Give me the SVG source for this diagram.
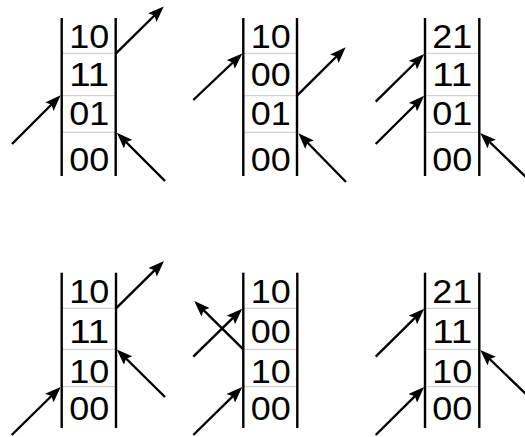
<svg xmlns="http://www.w3.org/2000/svg" width="525" height="437" viewBox="0 0 525 437">
  <style>
    .rail { stroke: #000; stroke-width: 2.4; fill: none; }
    .sep { stroke: #c8c8c8; stroke-width: 1; fill: none; }
    .cell { font-family: "Liberation Sans", Arial, sans-serif; font-size: 33.5px; fill: #000; text-anchor: middle; }
    .arrow { stroke: #000; stroke-width: 2.4; fill: none; marker-end: url(#head); }
  </style>
  <defs>
    <marker id="head" viewBox="0 0 16 12" markerWidth="16" markerHeight="12" markerUnits="userSpaceOnUse" refX="8" refY="6" orient="auto">
      <path d="M0,0 L16,6 L0,12 L3,6 z" fill="#000"/>
    </marker>
  </defs>

  <!-- top row of stacks -->
  <g id="stack1">
    <line class="sep" x1="62" y1="53.3" x2="116" y2="53.3"/>
    <line class="sep" x1="62" y1="95.7" x2="116" y2="95.7"/>
    <line class="sep" x1="62" y1="132.3" x2="116" y2="132.3"/>
    <line class="rail" x1="61.7" y1="18" x2="61.7" y2="176"/>
    <line class="rail" x1="115.7" y1="18" x2="115.7" y2="176"/>
    <text class="cell" x="89.2" y="48" textLength="40" lengthAdjust="spacingAndGlyphs">10</text>
    <text class="cell" x="89.2" y="85.5" textLength="40" lengthAdjust="spacingAndGlyphs">11</text>
    <text class="cell" x="89.2" y="124.5" textLength="40" lengthAdjust="spacingAndGlyphs">01</text>
    <text class="cell" x="89.2" y="170.5" textLength="40" lengthAdjust="spacingAndGlyphs">00</text>
  </g>
  <g id="stack2">
    <line class="sep" x1="243" y1="53.3" x2="297" y2="53.3"/>
    <line class="sep" x1="243" y1="95.7" x2="297" y2="95.7"/>
    <line class="sep" x1="243" y1="132.3" x2="297" y2="132.3"/>
    <line class="rail" x1="243.3" y1="18" x2="243.3" y2="176"/>
    <line class="rail" x1="297" y1="18" x2="297" y2="176"/>
    <text class="cell" x="270.7" y="48" textLength="40" lengthAdjust="spacingAndGlyphs">10</text>
    <text class="cell" x="270.7" y="85.5" textLength="40" lengthAdjust="spacingAndGlyphs">00</text>
    <text class="cell" x="270.7" y="124.5" textLength="40" lengthAdjust="spacingAndGlyphs">01</text>
    <text class="cell" x="270.7" y="170.5" textLength="40" lengthAdjust="spacingAndGlyphs">00</text>
  </g>
  <g id="stack3">
    <line class="sep" x1="425" y1="53.3" x2="479" y2="53.3"/>
    <line class="sep" x1="425" y1="95.7" x2="479" y2="95.7"/>
    <line class="sep" x1="425" y1="132.3" x2="479" y2="132.3"/>
    <line class="rail" x1="425" y1="18" x2="425" y2="176"/>
    <line class="rail" x1="479.3" y1="18" x2="479.3" y2="176"/>
    <text class="cell" x="452.2" y="48" textLength="40" lengthAdjust="spacingAndGlyphs">21</text>
    <text class="cell" x="452.2" y="85.5" textLength="40" lengthAdjust="spacingAndGlyphs">11</text>
    <text class="cell" x="452.2" y="124.5" textLength="40" lengthAdjust="spacingAndGlyphs">01</text>
    <text class="cell" x="452.2" y="170.5" textLength="40" lengthAdjust="spacingAndGlyphs">00</text>
  </g>

  <!-- bottom row of stacks -->
  <g id="stack4">
    <line class="sep" x1="62" y1="308.3" x2="116" y2="308.3"/>
    <line class="sep" x1="62" y1="349.3" x2="116" y2="349.3"/>
    <line class="sep" x1="62" y1="386.7" x2="116" y2="386.7"/>
    <line class="rail" x1="61.7" y1="272.7" x2="61.7" y2="428"/>
    <line class="rail" x1="116" y1="272.7" x2="116" y2="428"/>
    <text class="cell" x="89.3" y="303" textLength="40" lengthAdjust="spacingAndGlyphs">10</text>
    <text class="cell" x="89.3" y="343" textLength="40" lengthAdjust="spacingAndGlyphs">11</text>
    <text class="cell" x="89.3" y="383" textLength="40" lengthAdjust="spacingAndGlyphs">10</text>
    <text class="cell" x="89.3" y="419.5" textLength="40" lengthAdjust="spacingAndGlyphs">00</text>
  </g>
  <g id="stack5">
    <line class="sep" x1="243" y1="308.3" x2="297" y2="308.3"/>
    <line class="sep" x1="243" y1="349.3" x2="297" y2="349.3"/>
    <line class="sep" x1="243" y1="386.7" x2="297" y2="386.7"/>
    <line class="rail" x1="243.3" y1="272.7" x2="243.3" y2="428"/>
    <line class="rail" x1="297.3" y1="272.7" x2="297.3" y2="428"/>
    <text class="cell" x="270.8" y="303" textLength="40" lengthAdjust="spacingAndGlyphs">10</text>
    <text class="cell" x="270.8" y="343" textLength="40" lengthAdjust="spacingAndGlyphs">00</text>
    <text class="cell" x="270.8" y="383" textLength="40" lengthAdjust="spacingAndGlyphs">10</text>
    <text class="cell" x="270.8" y="419.5" textLength="40" lengthAdjust="spacingAndGlyphs">00</text>
  </g>
  <g id="stack6">
    <line class="sep" x1="425" y1="308.3" x2="479" y2="308.3"/>
    <line class="sep" x1="425" y1="349.3" x2="479" y2="349.3"/>
    <line class="sep" x1="425" y1="386.7" x2="479" y2="386.7"/>
    <line class="rail" x1="425" y1="272.7" x2="425" y2="428"/>
    <line class="rail" x1="479.3" y1="272.7" x2="479.3" y2="428"/>
    <text class="cell" x="452.2" y="303" textLength="40" lengthAdjust="spacingAndGlyphs">21</text>
    <text class="cell" x="452.2" y="343" textLength="40" lengthAdjust="spacingAndGlyphs">11</text>
    <text class="cell" x="452.2" y="383" textLength="40" lengthAdjust="spacingAndGlyphs">10</text>
    <text class="cell" x="452.2" y="419.5" textLength="40" lengthAdjust="spacingAndGlyphs">00</text>
  </g>

  <!-- pushes and pops at the stack boundaries -->
  <g id="connectors">
    <line class="arrow" x1="116" y1="53.3" x2="158" y2="12"/>
    <line class="arrow" x1="12" y1="144" x2="55" y2="101"/>
    <line class="arrow" x1="165" y1="181" x2="122.5" y2="138.5"/>

    <line class="arrow" x1="193.3" y1="100" x2="236.5" y2="59"/>
    <line class="arrow" x1="297" y1="95.7" x2="340" y2="53"/>
    <line class="arrow" x1="346" y1="182" x2="304" y2="139"/>

    <line class="arrow" x1="375.7" y1="101.7" x2="418.5" y2="59.5"/>
    <line class="arrow" x1="375.7" y1="144" x2="418.5" y2="101.5"/>
    <line class="arrow" x1="530" y1="181" x2="486" y2="138.5"/>

    <line class="arrow" x1="116" y1="308.3" x2="158.3" y2="266.7"/>
    <line class="arrow" x1="165" y1="397" x2="122.5" y2="355"/>
    <line class="arrow" x1="11.7" y1="435" x2="55" y2="392.5"/>

    <line class="arrow" x1="193.3" y1="356.7" x2="236.5" y2="314.3"/>
    <line class="arrow" x1="243.3" y1="349.3" x2="200" y2="306.7"/>
    <line class="arrow" x1="193.3" y1="435" x2="236.5" y2="392.7"/>

    <line class="arrow" x1="375.7" y1="356.7" x2="418.5" y2="314.3"/>
    <line class="arrow" x1="530" y1="398" x2="486" y2="355.5"/>
    <line class="arrow" x1="375.7" y1="435" x2="418.5" y2="392.7"/>
  </g>
</svg>
